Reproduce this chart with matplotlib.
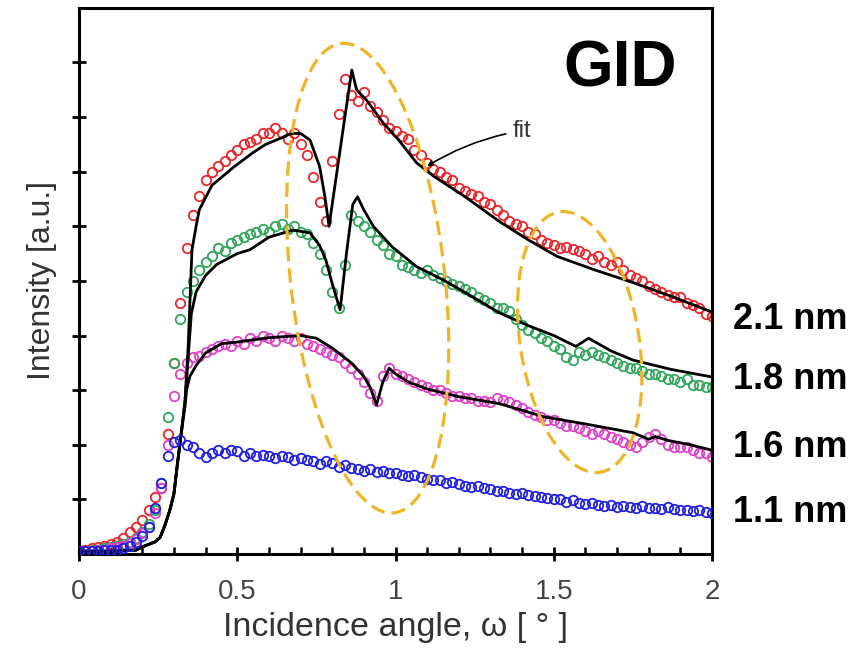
import numpy as np
import matplotlib
matplotlib.use("Agg")
import matplotlib.pyplot as plt
from matplotlib.patches import Ellipse
from matplotlib.ticker import MultipleLocator

plt.rcParams["font.family"] = ["Liberation Sans", "DejaVu Sans"]

# measured points, sampled every 0.02 deg from 0 to 2
omega = np.round(np.arange(101) * 0.02, 2)

red_pts = [
    0.08, 0.07, 0.10, 0.12, 0.15, 0.18, 0.22, 0.30, 0.40, 0.50,
    0.62, 0.80, 1.05, 1.20, 2.20, 3.50, 4.60, 5.60, 6.20, 6.55,
    6.85, 7.00, 7.10, 7.20, 7.30, 7.40, 7.50, 7.55, 7.60, 7.70,
    7.70, 7.80, 7.70, 7.60, 7.70, 7.50, 7.30, 6.90, 6.45, 6.10,
    7.20, 8.05, 8.70, 8.40, 8.30, 8.45, 8.20, 8.10, 7.95, 7.80,
    7.75, 7.65, 7.60, 7.40, 7.30, 7.15, 7.05, 7.00, 6.90, 6.85,
    6.70, 6.65, 6.60, 6.55, 6.45, 6.40, 6.30, 6.20, 6.10, 6.05,
    6.00, 5.90, 5.85, 5.75, 5.70, 5.65, 5.60, 5.62, 5.58, 5.55,
    5.50, 5.40, 5.45, 5.35, 5.30, 5.35, 5.20, 5.10, 5.05, 5.00,
    4.90, 4.85, 4.80, 4.75, 4.70, 4.70, 4.60, 4.55, 4.50, 4.40,
    4.35,
]

green_pts = [
    0.06, 0.05, 0.07, 0.08, 0.10, 0.12, 0.14, 0.18, 0.22, 0.30,
    0.40, 0.55, 0.80, 1.30, 2.50, 3.50, 4.30, 4.80, 5.00, 5.20,
    5.35, 5.45, 5.60, 5.55, 5.70, 5.75, 5.80, 5.85, 5.90, 5.95,
    5.90, 6.00, 6.05, 5.95, 6.00, 5.90, 5.85, 5.70, 5.50, 5.20,
    4.80, 4.50, 5.30, 6.20, 6.10, 6.00, 5.90, 5.75, 5.65, 5.50,
    5.45, 5.30, 5.25, 5.20, 5.15, 5.20, 5.10, 5.05, 5.00, 4.95,
    4.90, 4.85, 4.80, 4.70, 4.65, 4.60, 4.50, 4.50, 4.45, 4.30,
    4.20, 4.10, 4.05, 3.95, 3.90, 3.80, 3.75, 3.60, 3.55, 3.70,
    3.65, 3.70, 3.65, 3.60, 3.55, 3.50, 3.45, 3.40, 3.40, 3.35,
    3.30, 3.30, 3.25, 3.20, 3.20, 3.15, 3.20, 3.10, 3.10, 3.05,
    3.05,
]

magenta_pts = [
    0.05, 0.05, 0.06, 0.07, 0.08, 0.10, 0.12, 0.15, 0.20, 0.28,
    0.38, 0.50, 0.75, 1.20, 2.00, 2.90, 3.30, 3.50, 3.60, 3.62,
    3.70, 3.75, 3.80, 3.85, 3.80, 3.90, 3.85, 3.95, 3.90, 4.00,
    3.95, 3.90, 4.00, 3.95, 3.90, 3.95, 3.85, 3.80, 3.75, 3.70,
    3.65, 3.60, 3.50, 3.40, 3.30, 3.15, 2.95, 2.80, 3.25, 3.40,
    3.30, 3.25, 3.20, 3.15, 3.10, 3.05, 3.00, 3.00, 2.95, 2.90,
    2.90, 2.85, 2.85, 2.80, 2.80, 2.78, 2.85, 2.82, 2.78, 2.72,
    2.68, 2.60, 2.55, 2.50, 2.45, 2.45, 2.40, 2.35, 2.35, 2.30,
    2.25, 2.20, 2.25, 2.20, 2.15, 2.10, 2.05, 2.00, 1.95, 2.05,
    2.15, 2.20, 2.10, 2.00, 1.95, 1.95, 1.95, 1.90, 1.85, 1.85,
    1.78,
]

blue_pts = [
    0.06, 0.05, 0.06, 0.05, 0.07, 0.08, 0.07, 0.10, 0.14, 0.22,
    0.32, 0.50, 0.85, 1.30, 1.80, 2.05, 2.08, 2.00, 1.95, 1.85,
    1.78, 1.85, 1.90, 1.85, 1.90, 1.88, 1.80, 1.85, 1.80, 1.82,
    1.80, 1.75, 1.80, 1.78, 1.72, 1.75, 1.72, 1.70, 1.65, 1.70,
    1.66, 1.60, 1.62, 1.58, 1.55, 1.52, 1.55, 1.50, 1.52, 1.48,
    1.48, 1.45, 1.42, 1.45, 1.40, 1.38, 1.36, 1.35, 1.30, 1.32,
    1.28, 1.25, 1.22, 1.24, 1.20, 1.18, 1.16, 1.15, 1.12, 1.10,
    1.12, 1.08, 1.06, 1.05, 1.02, 1.00, 1.00, 0.96, 0.98, 0.94,
    0.92, 0.93, 0.90, 0.88, 0.90, 0.86, 0.88, 0.86, 0.85, 0.87,
    0.84, 0.85, 0.83, 0.86, 0.82, 0.80, 0.80, 0.78, 0.80, 0.76,
    0.75,
]

# fitted curves
red_fit_x = [0, 0.1, 0.18, 0.2, 0.24, 0.256, 0.27, 0.287, 0.3, 0.31, 0.325,
             0.335, 0.345, 0.357, 0.37, 0.38, 0.42, 0.49, 0.55, 0.59, 0.64,
             0.67, 0.70, 0.73, 0.76, 0.777, 0.79, 0.82, 0.84, 0.862, 0.877,
             0.91, 0.96, 1.01, 1.067, 1.12, 1.22, 1.33, 1.42, 1.51, 1.63,
             1.75, 1.87, 2.0]
red_fit_y = [0.05, 0.05, 0.07, 0.13, 0.22, 0.30, 0.50, 0.80, 1.10, 1.60, 2.30,
             2.80, 3.80, 5.57, 6.00, 6.30, 6.75, 7.09, 7.35, 7.50, 7.62,
             7.70, 7.70, 7.58, 7.10, 6.54, 6.00, 7.20, 8.00, 8.86, 8.50,
             8.30, 7.90, 7.58, 7.16, 6.92, 6.54, 6.08, 5.75, 5.45, 5.20,
             4.97, 4.72, 4.43]

green_fit_x = [0, 0.1, 0.18, 0.2, 0.24, 0.256, 0.27, 0.287, 0.3, 0.31, 0.325,
               0.335, 0.345, 0.355, 0.37, 0.40, 0.435, 0.5, 0.54, 0.60, 0.676,
               0.73, 0.76, 0.78, 0.80, 0.825, 0.845, 0.865, 0.88, 0.90, 0.93,
               0.99, 1.067, 1.15, 1.24, 1.33, 1.42, 1.5, 1.57, 1.61, 1.68,
               1.75, 1.87, 2.0]
green_fit_y = [0.05, 0.05, 0.07, 0.13, 0.22, 0.30, 0.50, 0.80, 1.10, 1.60, 2.30,
               2.80, 3.60, 4.40, 4.80, 5.10, 5.30, 5.50, 5.57, 5.80, 5.93,
               5.88, 5.65, 5.38, 4.95, 4.47, 5.50, 6.40, 6.54, 6.30, 6.00,
               5.62, 5.26, 5.02, 4.72, 4.41, 4.18, 4.00, 3.80, 3.95, 3.72,
               3.55, 3.38, 3.24]

magenta_fit_x = [0, 0.1, 0.18, 0.2, 0.24, 0.256, 0.27, 0.287, 0.3, 0.31, 0.325,
                 0.335, 0.34, 0.35, 0.37, 0.40, 0.45, 0.5, 0.6, 0.7, 0.75,
                 0.8, 0.86, 0.9, 0.92, 0.94, 0.96, 0.98, 1.0, 1.04, 1.1, 1.2,
                 1.33, 1.47, 1.6, 1.75, 1.8, 1.82, 1.86, 1.93, 2.0]
magenta_fit_y = [0.05, 0.05, 0.07, 0.13, 0.22, 0.30, 0.50, 0.80, 1.10, 1.60, 2.30,
                 2.70, 3.00, 3.25, 3.45, 3.68, 3.85, 3.88, 3.96, 4.00, 3.95,
                 3.77, 3.50, 3.25, 3.05, 2.73, 3.15, 3.40, 3.30, 3.15, 3.02, 2.88,
                 2.75, 2.51, 2.38, 2.22, 2.10, 2.15, 2.08, 2.00, 1.90]

labels = ["2.1 nm", "1.8 nm", "1.6 nm", "1.1 nm"]
label_y = [4.29, 3.19, 1.94, 0.75]

fig = plt.figure(figsize=(8.66, 6.54), dpi=100)
ax = fig.add_axes([0.0912, 0.153, 0.731, 0.835])

ms = 6.8
mew = 1.3
ax.plot(omega, red_pts, "o", mfc="none", mec="#E8262B", ms=ms, mew=mew, zorder=2)
ax.plot(omega, green_pts, "o", mfc="none", mec="#2FA65A", ms=ms, mew=mew, zorder=2)
ax.plot(omega, magenta_pts, "o", mfc="none", mec="#E040C8", ms=ms, mew=mew, zorder=2)

ax.plot(red_fit_x, red_fit_y, color="black", lw=2.0, zorder=3)
ax.plot(green_fit_x, green_fit_y, color="black", lw=2.0, zorder=3)
ax.plot(magenta_fit_x, magenta_fit_y, color="black", lw=2.0, zorder=3)

ax.plot(omega, blue_pts, "o", mfc="none", mec="#2020E0", ms=ms, mew=mew, zorder=4)

# highlighted regions
for center, w, h, ang in [((0.912, 5.05), 0.49, 8.6, 1.0),
                          ((1.582, 3.88), 0.379, 4.78, 1.25)]:
    ax.add_patch(Ellipse(center, w, h, angle=ang, fill=False,
                         edgecolor="#F0B429", lw=2.3,
                         linestyle=(0, (4.5, 2.2)), zorder=5))

ax.annotate("fit", xy=(1.10, 7.10), xytext=(1.37, 7.75),
            fontsize=17, color="#333333", va="center", ha="left",
            arrowprops=dict(arrowstyle="-|>", color="black", lw=1.2,
                            mutation_scale=8, shrinkA=3, shrinkB=0,
                            connectionstyle="arc3,rad=0.1"))

ax.text(1.71, 8.88, "GID", fontsize=46, fontweight="bold",
        ha="center", va="center")

for lab, y in zip(labels, label_y):
    ax.text(2.065, y, lab, fontsize=26, fontweight="bold",
            ha="left", va="center", clip_on=False)

ax.set_xlim(0, 2)
ax.set_ylim(0, 10)

ax.xaxis.set_minor_locator(MultipleLocator(0.1))
ax.set_xticks([0, 0.5, 1, 1.5, 2])
ax.set_xticklabels(["0", "0.5", "1", "1.5", "2"])
ax.set_yticks([1, 2, 3, 4, 5, 6, 7, 8, 9])
ax.set_yticklabels([])

ax.tick_params(axis="x", which="major", direction="inout", length=10,
               width=2.0, labelsize=20, labelcolor="#444444", pad=13)
ax.tick_params(axis="x", which="minor", direction="in", length=5, width=1.8)
ax.tick_params(axis="y", which="major", direction="inout", length=10, width=2.0)

for side in ["left", "bottom", "right", "top"]:
    ax.spines[side].set_linewidth(2.2)

ax.set_xlabel("Incidence angle, ω [ ° ]", fontsize=24.5, color="#333333",
              labelpad=5)
ax.set_ylabel("Intensity [a.u.]", fontsize=23, color="#333333", labelpad=7)

plt.savefig("out.png", dpi=100)
plt.close()
